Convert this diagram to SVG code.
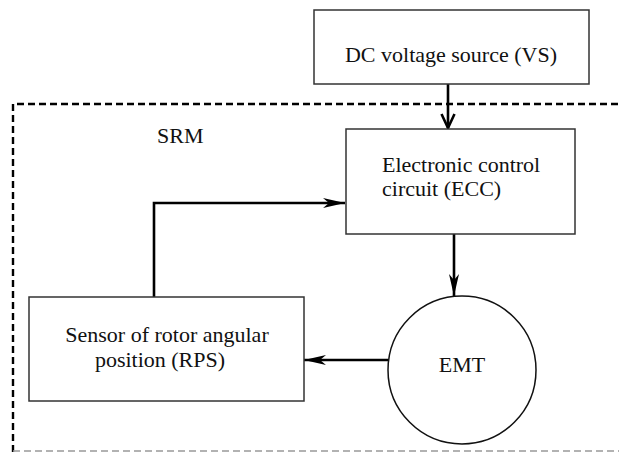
<svg xmlns="http://www.w3.org/2000/svg" width="619" height="454" viewBox="0 0 619 454">
<style>
.box{fill:#fff;stroke:#333;stroke-width:1.5}
.t{font-family:"Liberation Serif","Times New Roman",serif;font-size:22px;fill:#111}
.c{fill:none;stroke:#000;stroke-width:2.6}
</style>
<defs>
<marker id="barb" markerUnits="userSpaceOnUse" markerWidth="24" markerHeight="12" refX="22" refY="5" orient="auto" overflow="visible">
<path d="M0,0 L22,5 L0,10 L6,5 Z" fill="#000"/>
</marker>
<marker id="vee" markerUnits="userSpaceOnUse" markerWidth="16" markerHeight="16" refX="15" refY="7" orient="auto" overflow="visible">
<path d="M1,0.5 L15,7 L1,13.5" fill="none" stroke="#000" stroke-width="2.6"/>
</marker>
</defs>
<rect width="619" height="454" fill="#fff"/>
<g id="srm-boundary">
<path d="M13,452 L13,104 L619,104" fill="none" stroke="#000" stroke-width="2.4" stroke-dasharray="7,4"/>
<path d="M13,451 L619,451" fill="none" stroke="#999" stroke-width="1.5" stroke-dasharray="7,4"/>
<text class="t" x="157" y="143">SRM</text>
</g>
<g id="connectors">
<path class="c" d="M448,84 L448,128" marker-end="url(#vee)"/>
<path class="c" d="M454,234 L454,296" marker-end="url(#barb)"/>
<path class="c" d="M388,360 L304,360" marker-end="url(#barb)"/>
<path class="c" d="M154,297 L154,203 L345,203" marker-end="url(#barb)"/>
</g>
<g id="vs">
<rect class="box" x="314" y="10" width="275" height="74"/>
<text class="t" x="451" y="62" text-anchor="middle">DC voltage source (VS)</text>
</g>
<g id="ecc">
<rect class="box" x="346" y="129" width="229" height="105"/>
<text class="t" x="382" y="172">Electronic control</text>
<text class="t" x="382" y="196">circuit (ECC)</text>
</g>
<g id="rps">
<rect class="box" x="29" y="297" width="275" height="104"/>
<text class="t" x="167" y="342" text-anchor="middle">Sensor of rotor angular</text>
<text class="t" x="160" y="367" text-anchor="middle">position (RPS)</text>
</g>
<g id="emt">
<circle cx="462" cy="370" r="74" fill="#fff" stroke="#111" stroke-width="1.5"/>
<text class="t" x="462" y="372" text-anchor="middle">EMT</text>
</g>
</svg>
